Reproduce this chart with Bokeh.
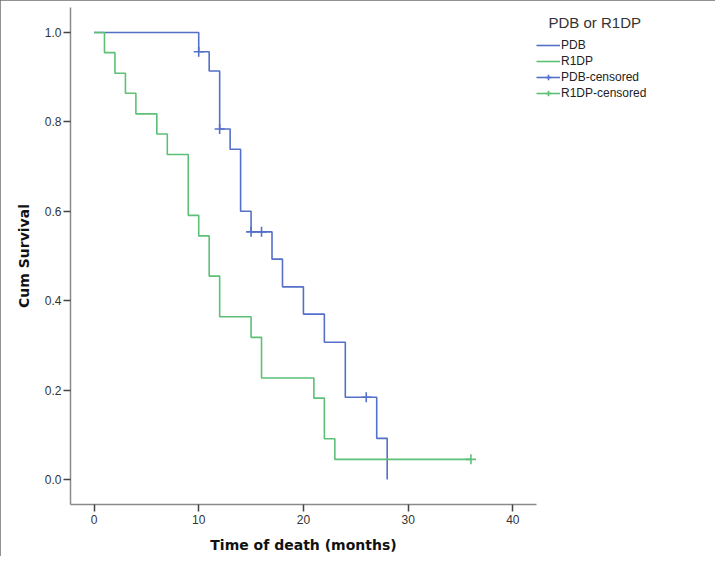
from bokeh.plotting import figure
from bokeh.models import Range1d, Legend, LegendItem, FixedTicker, PrintfTickFormatter
from bokeh.embed import file_html
from bokeh.resources import INLINE

nan = float("nan")

# Kaplan-Meier steps
pdb_time = [0, 10, 11, 12, 13, 14, 15, 17, 18, 20, 22, 24, 27, 28]
pdb_surv = [1.0, 0.957, 0.914, 0.784, 0.739, 0.600, 0.554, 0.493, 0.431, 0.370, 0.307, 0.184, 0.092, 0.0]
pdb_cens_time = [10, 12, 15, 16, 26]
pdb_cens_surv = [0.957, 0.784, 0.554, 0.554, 0.184]

r1dp_time = [0, 1, 2, 3, 4, 6, 7, 9, 10, 11, 12, 15, 16, 21, 22, 23, 36]
r1dp_surv = [1.0, 0.955, 0.909, 0.864, 0.818, 0.773, 0.727, 0.591, 0.545, 0.455, 0.364, 0.318, 0.227, 0.182, 0.091, 0.045, 0.045]
r1dp_cens_time = [36]
r1dp_cens_surv = [0.045]

x_ticks = [0, 10, 20, 30, 40]
y_ticks = [0.0, 0.2, 0.4, 0.6, 0.8, 1.0]

BLUE = "#5470c8"
GREEN = "#5cc077"

p = figure(frame_width=466, frame_height=497, output_backend="svg", toolbar_location=None,
           x_range=Range1d(-2.245, 42.26), y_range=Range1d(-0.056, 1.056),
           min_border_left=70, min_border_right=163, min_border_top=7, min_border_bottom=52)
p.outline_line_color = None
p.xgrid.visible = False
p.ygrid.visible = False
p.background_fill_color = "white"
p.border_fill_color = "white"
p.styles = {"outline": "2px solid #6e6e6e", "outline-offset": "-2px"}

r_pdb = p.step(pdb_time, pdb_surv, mode="after", line_color=BLUE, line_width=1.6)
r_r1 = p.step(r1dp_time, r1dp_surv, mode="after", line_color=GREEN, line_width=1.6)
c_pdb = p.scatter(pdb_cens_time, pdb_cens_surv, marker="cross", size=10, line_color=BLUE, line_width=1.6)
c_r1 = p.scatter(r1dp_cens_time, r1dp_cens_surv, marker="cross", size=10, line_color=GREEN, line_width=1.6)

# line proxies (no visible data) used only for the legend icons of censored items
l_pdb = p.line([nan, nan], [nan, nan], line_color=BLUE, line_width=1.6)
l_r1 = p.line([nan, nan], [nan, nan], line_color=GREEN, line_width=1.6)

for ax in (p.xaxis[0], p.yaxis[0]):
    ax.axis_line_color = "#8a8a8a"
    ax.axis_line_width = 1.5
    ax.major_tick_line_color = "#444444"
    ax.major_tick_line_width = 1.5
    ax.major_tick_in = 0
    ax.major_tick_out = 7
    ax.minor_tick_line_color = None
    ax.major_label_text_font = "Liberation Sans"
    ax.major_label_text_font_size = "12px"
    ax.major_label_text_color = "#333333"
    ax.axis_label_text_font = "DejaVu Sans"
    ax.axis_label_text_font_style = "bold"
    ax.axis_label_text_font_size = "14px"
    ax.axis_label_text_color = "#111111"

p.xaxis.ticker = FixedTicker(ticks=x_ticks)
p.yaxis.ticker = FixedTicker(ticks=y_ticks)
p.yaxis.formatter = PrintfTickFormatter(format="%.1f")
p.xaxis.axis_label = "Time of death (months)"
p.yaxis.axis_label = "Cum Survival"
p.xaxis.major_label_standoff = 3
p.yaxis.major_label_standoff = 2
p.xaxis.axis_label_standoff = 10
p.yaxis.axis_label_standoff = 10

legend = Legend(items=[
    LegendItem(label="PDB", renderers=[r_pdb]),
    LegendItem(label="R1DP", renderers=[r_r1]),
    LegendItem(label="PDB-censored", renderers=[l_pdb, c_pdb]),
    LegendItem(label="R1DP-censored", renderers=[l_r1, c_r1]),
], location=(0, 404))
legend.title = "\u00a0\u00a0\u00a0PDB or R1DP"
legend.title_text_font = "Liberation Sans"
legend.title_text_font_style = "normal"
legend.title_text_font_size = "15px"
legend.title_text_color = "#333333"
legend.title_standoff = 7
legend.label_text_font = "Liberation Sans"
legend.label_text_font_size = "12px"
legend.label_text_color = "#222222"
legend.glyph_width = 24
legend.glyph_height = 14
legend.label_height = 14
legend.label_standoff = 1
legend.spacing = 2
legend.padding = 2
legend.margin = 0
legend.border_line_color = None
legend.background_fill_alpha = 0
p.add_layout(legend, "right")

open("out.html", "w").write(file_html(p, INLINE))
